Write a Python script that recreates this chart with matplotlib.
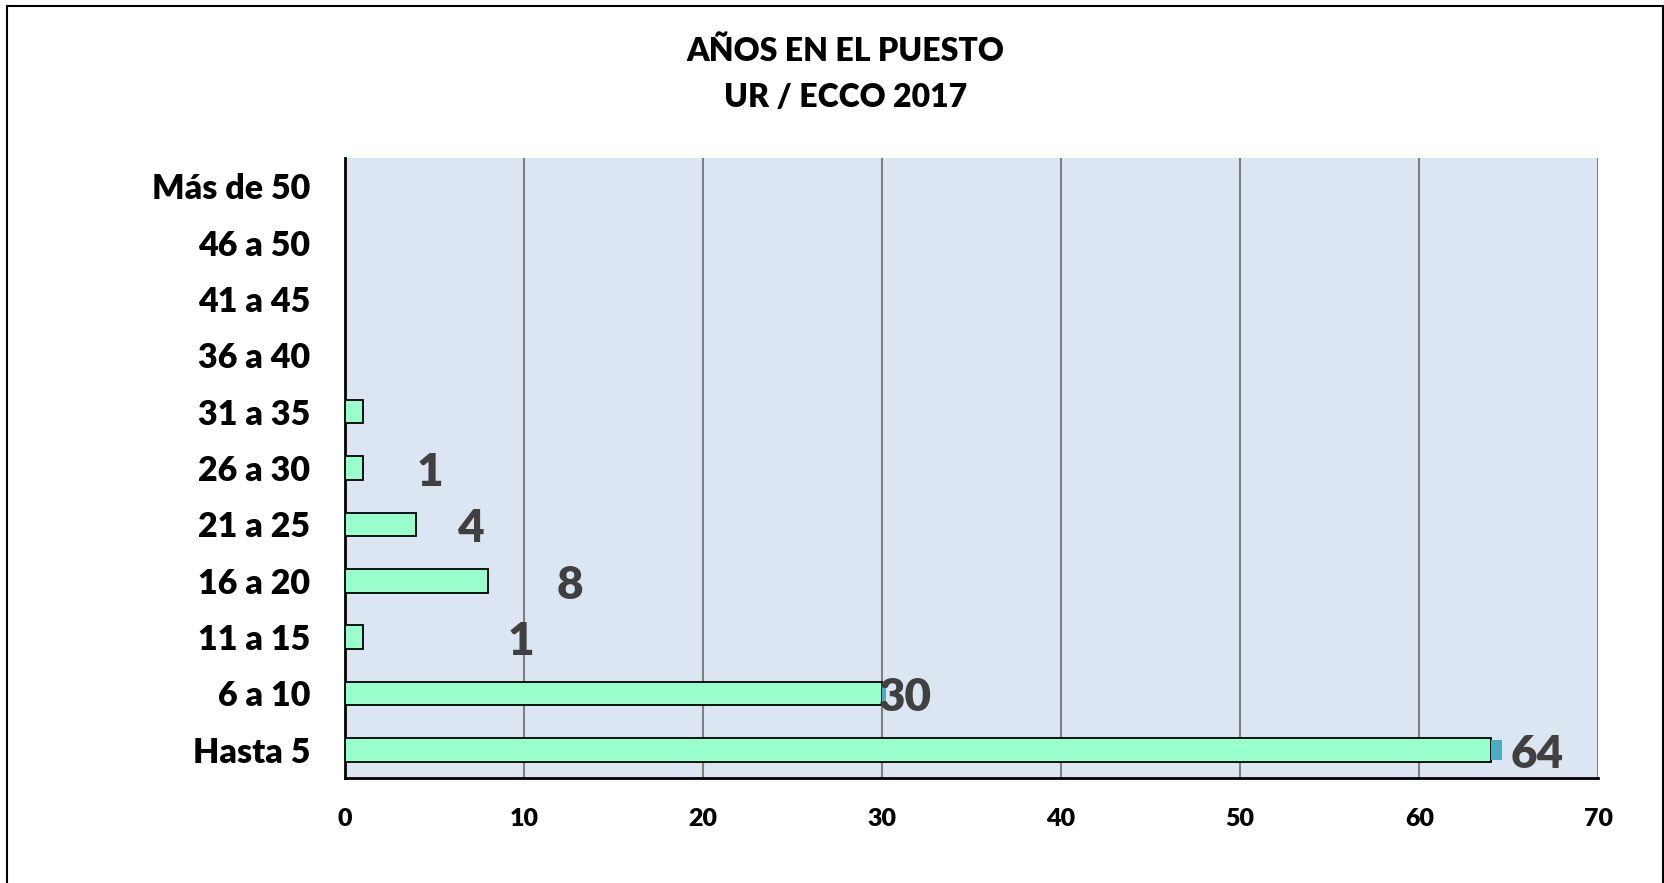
import matplotlib
matplotlib.use("Agg")
import matplotlib.pyplot as plt
from matplotlib.patches import Rectangle

# Data (bottom to top)
categories = ["Hasta 5", "6 a 10", "11 a 15", "16 a 20", "21 a 25", "26 a 30",
              "31 a 35", "36 a 40", "41 a 45", "46 a 50", "Más de 50"]
values = [64, 30, 1, 8, 4, 1, 1, 0, 0, 0, 0]
extra = [0.6, 0.2, 0, 0, 0, 0, 0, 0, 0, 0, 0]
label_text = ["64", "30", "1", "8", "4", "1", "", "", "", "", ""]
x_ticks = [0, 10, 20, 30, 40, 50, 60, 70]

plt.rcParams['font.family'] = ['Lato', 'DejaVu Sans']
W = "heavy"

fig = plt.figure(figsize=(16.65, 8.83), dpi=100)
ax = fig.add_axes([0.207, 0.119, 0.753, 0.702])

ypos = list(range(len(categories)))
ax.barh(ypos, values, height=0.42, color="#99FFCC", edgecolor="black", linewidth=1.3, zorder=3)
ax.barh(ypos, extra, left=values, height=0.36, color="#4BACC6", linewidth=0, zorder=3)

# data labels sit off to the right of the bars, as in the original
label_shift = [2.6, 1.3, 8.85, 4.6, 3.0, 3.75, 0, 0, 0, 0, 0]
for y, v, t, s in zip(ypos, values, label_text, label_shift):
    if t:
        ax.text(v + s, y - 0.08, t, ha="center", va="center", fontsize=33,
                fontweight=W, color="#404040", zorder=4)

ax.set_xlim(0, 70)
ax.set_ylim(-0.5, len(categories) - 0.5)
ax.set_facecolor("#DCE6F2")
ax.set_xticks(x_ticks)
ax.set_yticks(ypos)
ax.set_yticklabels(categories)
ax.tick_params(axis="y", length=0, pad=25, labelsize=24.5)
ax.tick_params(axis="x", length=0, pad=22, labelsize=18)
for lbl in ax.get_xticklabels() + ax.get_yticklabels():
    lbl.set_fontweight(W)

ax.grid(axis="x", color="#808080", linewidth=1.5, zorder=1)
ax.set_axisbelow(True)
for side in ["top", "right"]:
    ax.spines[side].set_visible(False)
ax.spines["left"].set_linewidth(2)
ax.spines["bottom"].set_linewidth(2)

fig.text(0.508, 0.942, "AÑOS EN EL PUESTO", ha="center", va="center",
         fontsize=23, fontweight=W)
fig.text(0.508, 0.890, "UR / ECCO 2017", ha="center", va="center",
         fontsize=23, fontweight=W)

fig.patches.append(Rectangle((0.0045, -0.05), 0.994, 1.043, transform=fig.transFigure,
                             fill=False, edgecolor="black", linewidth=1.5))

fig.savefig("out.png", dpi=100)
